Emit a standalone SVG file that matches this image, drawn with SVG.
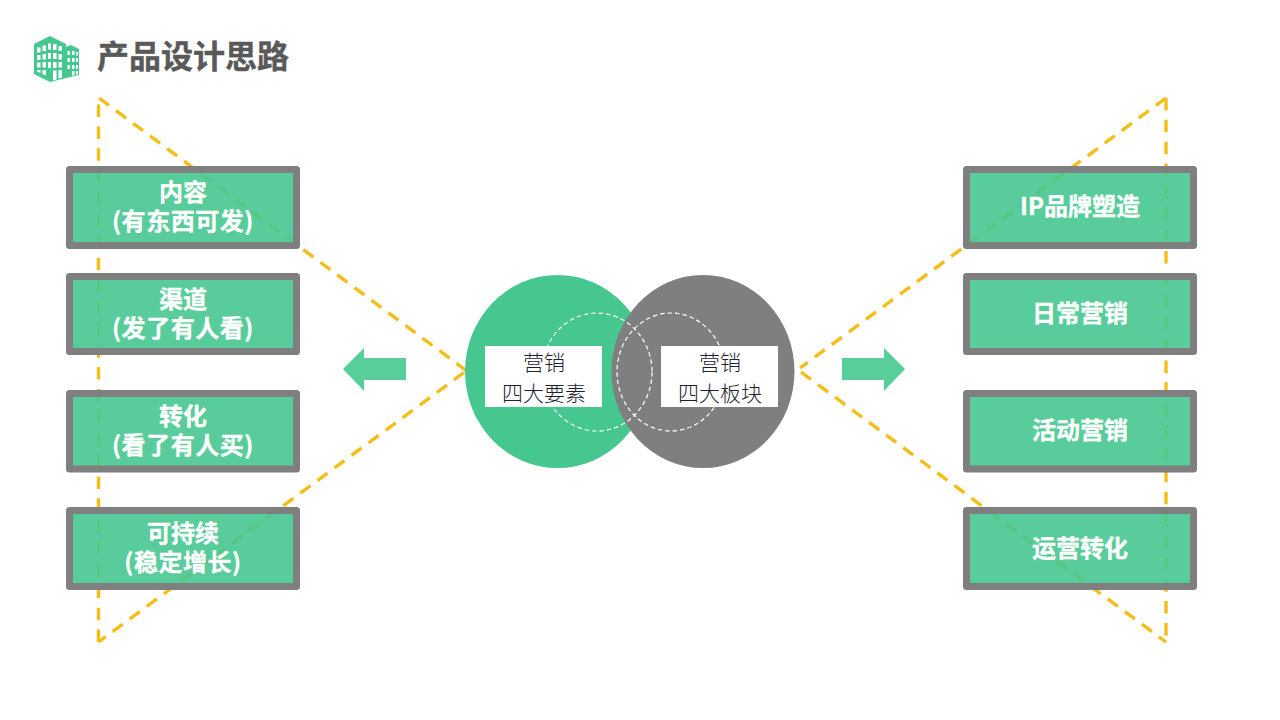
<svg xmlns="http://www.w3.org/2000/svg" width="1280" height="720" viewBox="0 0 1280 720">
<style>
text{font-family:"Noto Sans CJK SC","Noto Sans",sans-serif;text-anchor:middle}
.dash{fill:none;stroke:#f5bd18;stroke-width:3.4}
.d1{stroke-dasharray:12.5 8.7}
.d2{stroke-dasharray:12.5 9.37}
.box{fill:#46c78f;fill-opacity:.9;stroke:#7f7f7f;stroke-width:7;stroke-linejoin:round}
.lbl{fill:#fff;font-size:24px;font-weight:700;stroke:#fff;stroke-width:.35}
.par{letter-spacing:.55px}
.dc{fill:none;stroke:#fff;stroke-width:1.2;stroke-dasharray:4.500 3}
.tag{fill:#fff}
.tt{fill:#1c222c;font-size:21px;font-weight:300}
.arr{fill:#58cf9b}
.ic{fill:#46c78f}
.win{fill:#fff}
</style>
<rect width="1280" height="720" fill="#fff"/>
<g id="title-icon">
<path class="ic" d="M34 44L50 36L66 44V47L71 45L79 49V75L66 78L50 82L34 74Z"/>
<path class="win" d="M37 47.500h3.500v5h-3.500zM42.500 45.500h3.500v5.500h-3.500zM48 43.500h3v6h-3zM53 44h3.500v6h-3.500zM58.500 46h3.500v5h-3.500zM37 55h3.500v5h-3.500zM42.500 54h3.500v5.500h-3.500zM48 53h3v6h-3zM53 53h3.500v6h-3.500zM58.500 54h3.500v5.500h-3.500zM37 62.500h3.500v5h-3.500zM42.500 62h3.500v5.500h-3.500zM48 62h3v6h-3zM53 62h3.500v6h-3.500zM58.500 62h3.500v5.500h-3.500zM37 70h3.500v3l-3.500-1.500zM42.500 70h3.500v5.500l-3.500-1.500zM53 70.500h3.500v9l-3.500 1zM58.500 70h3.500v7.500l-3.500 1z"/>
<path class="win" d="M67.500 51h2.500v4h-2.500zM72 51h2.500v4h-2.500zM76 52h1.800v3.500h-1.800zM67.500 58h2.500v4h-2.500zM72 58h2.500v4h-2.500zM76 58h1.800v4h-1.800zM67.500 65h2.500v4h-2.500zM72 65h2.500v4h-2.500zM76 65h1.800v4h-1.800zM72 71h2.500v4.500h-2.500zM76 71h1.800v3.500h-1.800z"/>
</g>
<text id="title" x="193" y="68" style="font-size:32px;font-weight:700;fill:#595959;stroke:#595959;stroke-width:.4">产品设计思路</text>
<g id="connectors">
<path class="dash d1" d="M99 98L465.500 370"/>
<path class="dash d1" d="M464 372.500L98.500 642"/>
<path class="dash d2" d="M98.500 642V98"/>
<path class="dash d1" d="M1166 98L800 368"/>
<path class="dash d1" d="M801 372L1166 642"/>
<path class="dash d2" d="M1166 98V642"/>
</g>
<g id="circle-left"><ellipse cx="557.500" cy="371.500" rx="92.500" ry="96.500" fill="#46c78f"/></g>
<g id="circle-right"><ellipse cx="703" cy="371.500" rx="91.500" ry="96.500" fill="#7f7f7f"/></g>
<g id="rings">
<ellipse class="dc" cx="597" cy="372" rx="55" ry="59"/>
<ellipse class="dc" cx="671" cy="372" rx="54" ry="59"/>
</g>
<g id="tag-left"><rect class="tag" x="485" y="346" width="117" height="61"/>
<text class="tt" x="544" y="370">营销</text><text class="tt" x="544" y="401">四大要素</text></g>
<g id="tag-right"><rect class="tag" x="661" y="346" width="117" height="61"/>
<text class="tt" x="720" y="370">营销</text><text class="tt" x="720" y="401">四大板块</text></g>
<g id="arrow-left"><path class="arr" d="M343 369L364 348V358H406V380H364V391Z"/></g>
<g id="arrow-right"><path class="arr" d="M905 369L884 348V358H842V380H884V391Z"/></g>
<g id="l1"><rect class="box" x="69.500" y="169.500" width="227" height="76"/><text class="lbl" x="183" y="201">内容</text><text class="lbl par" x="183" y="230">(有东西可发)</text></g>
<g id="l2"><rect class="box" x="69.500" y="276.500" width="227" height="75"/><text class="lbl" x="183" y="308">渠道</text><text class="lbl par" x="183" y="337">(发了有人看)</text></g>
<g id="l3"><rect class="box" x="69.500" y="393.500" width="227" height="75.500"/><text class="lbl" x="183" y="425">转化</text><text class="lbl par" x="183" y="454">(看了有人买)</text></g>
<g id="l4"><rect class="box" x="69.500" y="510.500" width="227" height="76"/><text class="lbl" x="183" y="542">可持续</text><text class="lbl par" x="183" y="571">(稳定增长)</text></g>
<g id="r1"><rect class="box" x="966.500" y="169.500" width="227" height="76"/><text class="lbl" x="1080" y="215">IP品牌塑造</text></g>
<g id="r2"><rect class="box" x="966.500" y="276.500" width="227" height="75"/><text class="lbl" x="1080" y="322">日常营销</text></g>
<g id="r3"><rect class="box" x="966.500" y="393.500" width="227" height="75.500"/><text class="lbl" x="1080" y="439">活动营销</text></g>
<g id="r4"><rect class="box" x="966.500" y="510.500" width="227" height="76"/><text class="lbl" x="1080" y="557">运营转化</text></g>
</svg>
